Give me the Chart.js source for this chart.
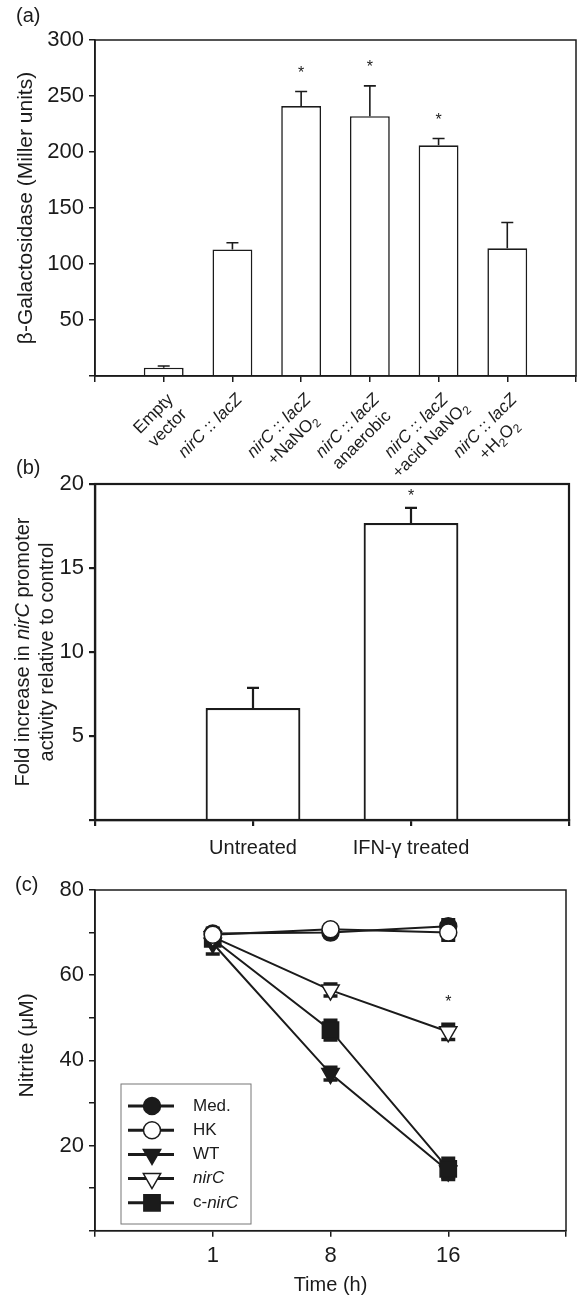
<!DOCTYPE html>
<html>
<head>
<meta charset="utf-8">
<script src="https://cdn.jsdelivr.net/npm/chart.js@4/dist/chart.umd.min.js"></script>
<style>
  html, body { margin: 0; padding: 0; background: #fff; width: 579px; height: 1295px; overflow: hidden; }
  canvas { position: absolute; left: 0; }
</style>
</head>
<body>
<canvas id="chartA" width="579" height="480" style="top:0"></canvas>
<canvas id="chartB" width="579" height="430" style="top:440px"></canvas>
<canvas id="chartC" width="579" height="440" style="top:860px"></canvas>
<script>
// (a) beta-galactosidase, Miller units
const labelsA = [
  ['Empty', 'vector'],
  ['<i>nirC</i> :: <i>lacZ</i>'],
  ['<i>nirC</i> :: <i>lacZ</i>', '+NaNO<sub>2</sub>'],
  ['<i>nirC</i> :: <i>lacZ</i>', 'anaerobic'],
  ['<i>nirC</i> :: <i>lacZ</i>', '+acid NaNO<sub>2</sub>'],
  ['<i>nirC</i> :: <i>lacZ</i>', '+H<sub>2</sub>O<sub>2</sub>']
];
const galA = [7.4, 113, 241, 232, 206, 114];
const galErrA = [1.5, 6, 13, 27, 6, 23];
const sigA = [false, false, true, true, true, false];

// (b) fold increase in nirC promoter activity
const labelsB = ['Untreated', 'IFN-γ treated'];
const foldB = [6.67, 17.68];
const foldErrB = [1.2, 0.9];
const sigB = [false, true];

// (c) nitrite over time
const timeLabels = ['1', '8', '16'];
const seriesC = ['Med.', 'HK', 'WT', '<i>nirC</i>', 'c-<i>nirC</i>'];
const medC = [69.8, 70.0, 71.5];
const hkC = [69.5, 70.8, 70.0];
const wtC = [67.5, 36.9, 14.0];
const nirC = [69.0, 56.5, 46.7];
const cNirC = [68.5, 47.1, 14.5];
const medErr = [1.2, 1.0, 1.5];
const hkErr = [1.0, 1.0, 1.8];
const wtErr = [2.5, 1.5, 1.5];
const nirErr = [1.5, 1.4, 1.8];
const cNirErr = [1.5, 2.3, 2.5];
const sigNirC = [false, false, true];

const FONT = '"Liberation Sans", Arial, Helvetica, sans-serif';
const INK = '#1b1b1b';
Chart.defaults.font.family = FONT;
Chart.defaults.color = INK;

// tiny markup: <i>..</i> italic, <sub>..</sub> subscript
function parseRich(str) {
  const segs = [];
  const re = /<(i|sub)>(.*?)<\/\1>|([^<]+)/g;
  let m;
  while ((m = re.exec(str)) !== null) {
    if (m[3] !== undefined) segs.push({ t: m[3] });
    else segs.push({ t: m[2], italic: m[1] === 'i', sub: m[1] === 'sub' });
  }
  return segs;
}
function segFont(s, size) {
  return (s.italic ? 'italic ' : '') + (s.sub ? Math.round(size * 0.7) : size) + 'px ' + FONT;
}
function drawRich(ctx, str, x, y, size, align) {
  const segs = parseRich(str);
  let w = 0;
  segs.forEach(s => { ctx.font = segFont(s, size); w += ctx.measureText(s.t).width; });
  let cx = align === 'right' ? x - w : align === 'center' ? x - w / 2 : x;
  ctx.textAlign = 'left';
  ctx.textBaseline = 'middle';
  segs.forEach(s => {
    ctx.font = segFont(s, size);
    ctx.fillText(s.t, cx, s.sub ? y + size * 0.3 : y);
    cx += ctx.measureText(s.t).width;
  });
  return w;
}
function panelLetter(ctx, txt, x, y) {
  ctx.font = '20px ' + FONT;
  ctx.fillStyle = INK;
  ctx.textAlign = 'left';
  ctx.textBaseline = 'middle';
  ctx.fillText(txt, x, y);
}
function frame(chart, lw) {
  const { ctx, chartArea: a } = chart;
  ctx.save();
  ctx.strokeStyle = INK;
  ctx.lineWidth = lw;
  ctx.strokeRect(a.left, a.top, a.right - a.left, a.bottom - a.top);
  ctx.restore();
}
function upperError(chart, values, errs, sig, capHalf, lw, starGap) {
  const { ctx, scales: { x, y } } = chart;
  ctx.save();
  ctx.strokeStyle = INK;
  ctx.fillStyle = INK;
  ctx.lineWidth = lw;
  values.forEach((v, i) => {
    const px = x.getPixelForValue(i + 1);
    const base = y.getPixelForValue(v);
    const top = y.getPixelForValue(v + errs[i]);
    ctx.beginPath();
    ctx.moveTo(px, base);
    ctx.lineTo(px, top);
    ctx.moveTo(px - capHalf, top);
    ctx.lineTo(px + capHalf, top);
    ctx.stroke();
    if (sig[i]) {
      ctx.font = '16px ' + FONT;
      ctx.textAlign = 'center';
      ctx.textBaseline = 'middle';
      ctx.fillText('*', px, top - starGap);
    }
  });
  ctx.restore();
}
function axisGrid(lw) {
  return { drawOnChartArea: false, drawTicks: true, tickLength: 6, color: INK, lineWidth: lw };
}

const extrasA = {
  id: 'extrasA',
  afterDatasetsDraw(chart) {
    upperError(chart, galA, galErrA, sigA, 6, 1.6, 18);
  },
  afterDraw(chart) {
    const { ctx, chartArea: a, scales: { x } } = chart;
    frame(chart, 1.5);
    ctx.save();
    ctx.fillStyle = INK;
    labelsA.forEach((lines, i) => {
      const px = x.getPixelForValue(i + 1);
      ctx.save();
      ctx.translate(px + 7, a.bottom + 21);
      ctx.rotate(-Math.PI / 4);
      const w1 = drawRich(ctx, lines[0], 0, 0, 17, 'right');
      if (lines[1]) drawRich(ctx, lines[1], -w1 / 2, 20, 17, 'center');
      ctx.restore();
    });
    panelLetter(ctx, '(a)', 16, 16);
    ctx.restore();
  }
};

new Chart(document.getElementById('chartA'), {
  type: 'bar',
  data: {
    datasets: [{
      data: galA.map((v, i) => ({ x: i + 1, y: v })),
      backgroundColor: '#fff',
      borderColor: INK,
      borderWidth: 1.6,
      barPercentage: 0.58,
      categoryPercentage: 1
    }]
  },
  options: {
    responsive: false,
    animation: false,
    layout: { padding: { top: 40, right: 1, left: 0, bottom: 0 } },
    plugins: { legend: { display: false }, tooltip: { enabled: false } },
    scales: {
      x: {
        type: 'linear', min: 0, max: 7, offset: false,
        grid: Object.assign(axisGrid(1.5), { offset: false }),
        border: { color: INK, width: 1.5 },
        ticks: { stepSize: 1, autoSkip: false, callback: () => '' },
        afterFit: s => { s.height = 104; }
      },
      y: {
        min: 0, max: 300,
        grid: axisGrid(1.5),
        border: { color: INK, width: 1.5 },
        ticks: { stepSize: 50, padding: 5, font: { size: 22 }, color: INK, callback: v => (v === 0 ? '' : v) },
        title: { display: true, text: 'β-Galactosidase (Miller units)', font: { size: 21 }, color: INK, padding: { top: 14, bottom: 0 } },
        afterFit: s => { s.width = 95; }
      }
    }
  },
  plugins: [extrasA]
});

const extrasB = {
  id: 'extrasB',
  afterDatasetsDraw(chart) {
    upperError(chart, foldB, foldErrB, sigB, 6, 2.2, 11);
  },
  afterDraw(chart) {
    const { ctx, chartArea: a } = chart;
    frame(chart, 2.2);
    ctx.save();
    ctx.fillStyle = INK;
    const cy = (a.top + a.bottom) / 2;
    ctx.translate(0, cy);
    ctx.rotate(-Math.PI / 2);
    drawRich(ctx, 'Fold increase in <i>nirC</i> promoter', 0, 23, 20, 'center');
    drawRich(ctx, 'activity relative to control', 0, 47, 20, 'center');
    ctx.restore();
    panelLetter(ctx, '(b)', 16, 28);
  }
};

new Chart(document.getElementById('chartB'), {
  type: 'bar',
  data: {
    datasets: [{
      data: foldB.map((v, i) => ({ x: i + 1, y: v })),
      backgroundColor: '#fff',
      borderColor: INK,
      borderWidth: 2.2,
      barPercentage: 0.6,
      categoryPercentage: 1
    }]
  },
  options: {
    responsive: false,
    animation: false,
    layout: { padding: { top: 44, right: 1, left: 0, bottom: 0 } },
    plugins: { legend: { display: false }, tooltip: { enabled: false } },
    scales: {
      x: {
        type: 'linear', min: 0, max: 3, offset: false,
        grid: Object.assign(axisGrid(2.2), { offset: false }),
        border: { color: INK, width: 2.2 },
        ticks: { stepSize: 1, autoSkip: false, maxRotation: 0, padding: 10, font: { size: 20 }, color: INK,
          callback: v => labelsB[v - 1] || '' },
        afterFit: s => { s.height = 50; }
      },
      y: {
        min: 0, max: 20,
        grid: axisGrid(2.2),
        border: { color: INK, width: 2.2 },
        ticks: { stepSize: 5, padding: 5, font: { size: 22 }, color: INK, callback: v => (v === 0 ? '' : v) },
        afterFit: s => { s.width = 95; }
      }
    }
  },
  plugins: [extrasB]
});

const errsC = [medErr, hkErr, wtErr, nirErr, cNirErr];
const extrasC = {
  id: 'extrasC',
  beforeDatasetsDraw(chart) {
    const { ctx, scales: { x, y } } = chart;
    ctx.save();
    ctx.strokeStyle = INK;
    chart.data.datasets.forEach((ds, k) => {
      ds.data.forEach((p, i) => {
        const px = x.getPixelForValue(p.x);
        const hi = y.getPixelForValue(p.y + errsC[k][i]);
        const lo = y.getPixelForValue(p.y - errsC[k][i]);
        ctx.lineWidth = 2;
        ctx.beginPath();
        ctx.moveTo(px, hi); ctx.lineTo(px, lo);
        ctx.stroke();
        ctx.lineWidth = 3.5;
        ctx.beginPath();
        ctx.moveTo(px - 7, hi); ctx.lineTo(px + 7, hi);
        ctx.moveTo(px - 7, lo); ctx.lineTo(px + 7, lo);
        ctx.stroke();
      });
    });
    ctx.restore();
  },
  afterDraw(chart) {
    const { ctx, chartArea: a, scales: { x, y } } = chart;
    frame(chart, 1.5);
    ctx.save();
    ctx.fillStyle = INK;
    sigNirC.forEach((s, i) => {
      if (!s) return;
      ctx.font = '16px ' + FONT;
      ctx.textAlign = 'center';
      ctx.textBaseline = 'middle';
      ctx.fillText('*', x.getPixelForValue(i + 1), y.getPixelForValue(nirC[i] + nirErr[i]) - 22);
    });
    // y title sits a little above the middle in the original
    ctx.save();
    ctx.translate(27, (a.top + a.bottom) / 2 - 15);
    ctx.rotate(-Math.PI / 2);
    drawRich(ctx, 'Nitrite (μM)', 0, 0, 21, 'center');
    ctx.restore();
    // legend box inside the plot
    const box = { x: 121, y: 224, w: 130, h: 140 };
    ctx.strokeStyle = '#777';
    ctx.lineWidth = 1;
    ctx.strokeRect(box.x, box.y, box.w, box.h);
    chart.data.datasets.forEach((ds, i) => {
      const ly = box.y + 22 + i * 24.2;
      ctx.strokeStyle = INK;
      ctx.lineWidth = 3;
      ctx.beginPath();
      ctx.moveTo(box.x + 7, ly);
      ctx.lineTo(box.x + 53, ly);
      ctx.stroke();
      ctx.fillStyle = ds.pointBackgroundColor;
      ctx.lineWidth = 1.5;
      Chart.helpers.drawPoint(ctx, { pointStyle: ds.pointStyle, radius: ds.pointRadius, rotation: ds.pointRotation || 0, borderWidth: 1.5 }, box.x + 31, ly);
      ctx.fillStyle = INK;
      drawRich(ctx, seriesC[i], box.x + 72, ly, 17, 'left');
    });
    ctx.restore();
    panelLetter(ctx, '(c)', 15, 25);
  }
};

function seriesSet(values, idx, style, fill, radius, rotation, order) {
  return {
    label: seriesC[idx].replace(/<[^>]+>/g, ''),
    data: values.map((v, i) => ({ x: i + 1, y: v })),
    borderColor: INK,
    borderWidth: 2,
    pointStyle: style,
    pointRadius: radius,
    pointRotation: rotation,
    pointBackgroundColor: fill,
    pointBorderColor: INK,
    pointBorderWidth: 1.5,
    order: order
  };
}

new Chart(document.getElementById('chartC'), {
  type: 'line',
  data: {
    datasets: [
      seriesSet(medC, 0, 'circle', INK, 8.5, 0, 4),
      seriesSet(hkC, 1, 'circle', '#fff', 8.5, 0, 0),
      seriesSet(wtC, 2, 'triangle', INK, 10, 180, 3),
      seriesSet(nirC, 3, 'triangle', '#fff', 10, 180, 1),
      seriesSet(cNirC, 4, 'rect', INK, 11.5, 0, 2)
    ]
  },
  options: {
    responsive: false,
    animation: false,
    layout: { padding: { top: 30, right: 1, left: 0, bottom: 0 } },
    plugins: { legend: { display: false }, tooltip: { enabled: false } },
    scales: {
      x: {
        type: 'linear', min: 0, max: 4, offset: false,
        grid: axisGrid(1.5),
        border: { color: INK, width: 1.5 },
        ticks: { stepSize: 1, autoSkip: false, maxRotation: 0, padding: 6, font: { size: 22 }, color: INK,
          callback: v => timeLabels[v - 1] || '' },
        title: { display: true, text: 'Time (h)', font: { size: 20 }, color: INK, padding: { top: 0, bottom: 3 } },
        afterFit: s => { s.height = 69.3; }
      },
      y: {
        min: 0, max: 80,
        grid: axisGrid(1.5),
        border: { color: INK, width: 1.5 },
        ticks: { stepSize: 10, padding: 5, font: { size: 22 }, color: INK,
          callback: v => (v !== 0 && v % 20 === 0 ? v : '') },
        afterFit: s => { s.width = 95; }
      }
    }
  },
  plugins: [extrasC]
});
</script>
</body>
</html>
